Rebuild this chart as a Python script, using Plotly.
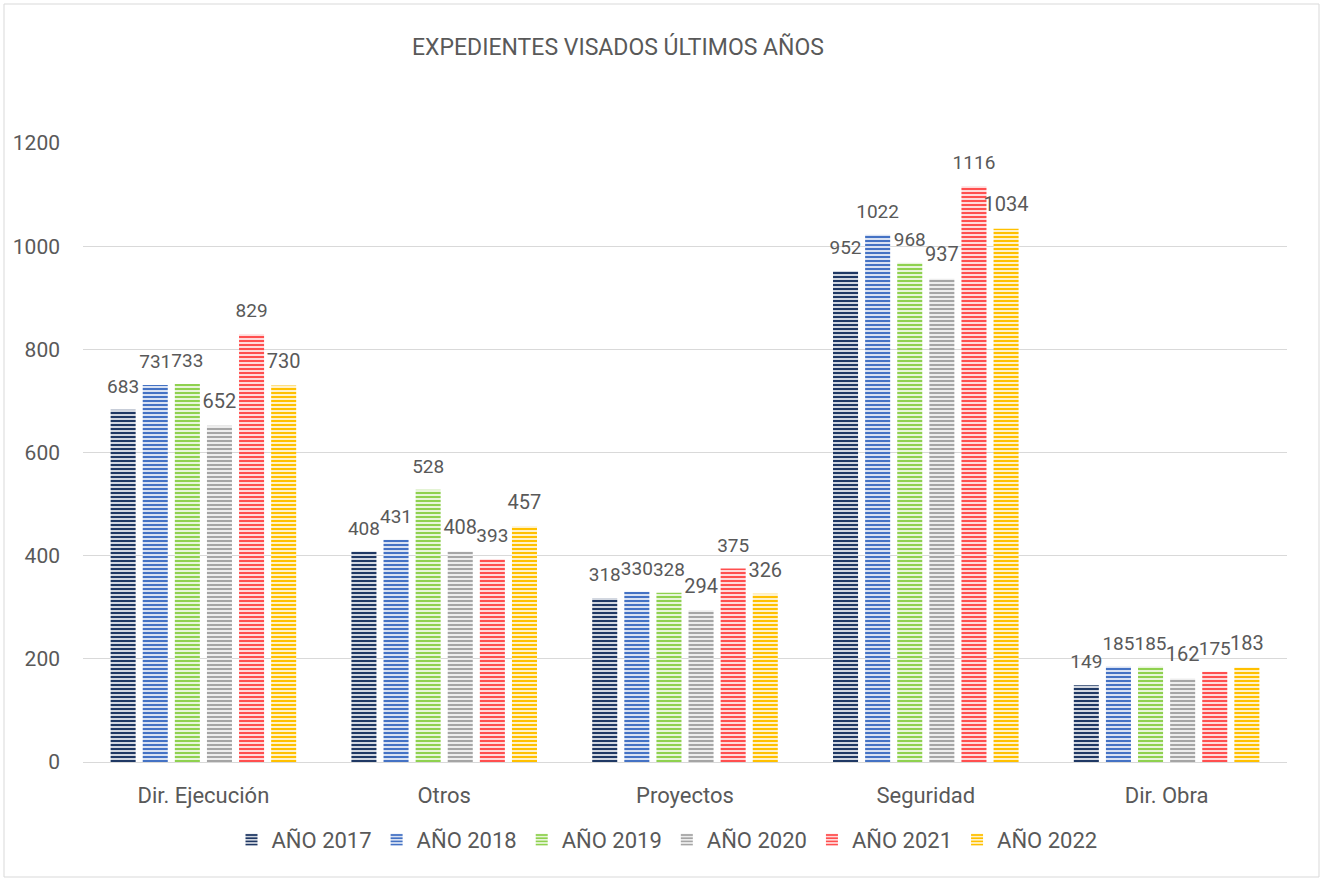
import plotly.graph_objects as go

categories = ["Dir. Ejecución", "Otros", "Proyectos", "Seguridad", "Dir. Obra"]
series_names = ["AÑO 2017", "AÑO 2018", "AÑO 2019", "AÑO 2020", "AÑO 2021", "AÑO 2022"]
v2017 = [683, 408, 318, 952, 149]
v2018 = [731, 431, 330, 1022, 185]
v2019 = [733, 528, 328, 968, 185]
v2020 = [652, 408, 294, 937, 162]
v2021 = [829, 393, 375, 1116, 175]
v2022 = [730, 457, 326, 1034, 183]
series_values = [v2017, v2018, v2019, v2020, v2021, v2022]
colors = ["#1F3864", "#4472C4", "#8FD14F", "#A5A5A5", "#FF4F4F", "#FFC000"]
label_sizes = [19, 19, 19, 20, 19, 20]
y_ticks = [0, 200, 400, 600, 800, 1000, 1200]

FONT = "Roboto"
TXT = "#595959"
GAP = 0.2

fig = go.Figure()
for i, (name, vals, col) in enumerate(zip(series_names, series_values, colors)):
    fig.add_trace(go.Bar(
        name=name, x=categories, y=vals, offsetgroup=f"g{i}",
        hoverinfo="skip",
        marker=dict(color=col, line=dict(width=0),
                    pattern=dict(shape="-", fgcolor=col, bgcolor="white",
                                 size=4, solidity=0.6, fillmode="replace")),
    ))
for i, (name, vals, ls) in enumerate(zip(series_names, series_values, label_sizes)):
    fig.add_trace(go.Scatter(
        x=categories, y=vals, mode="markers+text", orientation="v",
        offsetgroup=f"g{i}", showlegend=False, hoverinfo="skip",
        text=[str(v) for v in vals], textposition="top center",
        textfont=dict(family=FONT, size=ls, color=TXT),
        marker=dict(size=18, color="rgba(0,0,0,0)"), cliponaxis=False,
    ))

W, H = 1322, 878
L, R, T, B = 83, W - 1287, 143, H - 762
PW, PH = W - L - R, H - T - B
fig.update_layout(
    width=W, height=H,
    margin=dict(l=L, r=R, t=T, b=B),
    paper_bgcolor="white", plot_bgcolor="white",
    barmode="group", bargap=GAP, bargroupgap=0.22,
    scattermode="group", scattergap=GAP,
    title=dict(text="EXPEDIENTES VISADOS ÚLTIMOS AÑOS", x=618 / W, xanchor="center",
               y=1 - 47 / H, yanchor="middle", xref="container", yref="container",
               font=dict(family=FONT, size=23, color=TXT)),
    font=dict(family=FONT, size=20, color=TXT),
    legend=dict(orientation="h", x=(667 - L) / PW, xanchor="center",
                y=(762 - 840) / PH, yanchor="middle",
                font=dict(family=FONT, size=22, color=TXT),
                itemwidth=30, traceorder="normal"),
    showlegend=True,
    shapes=[dict(type="rect", xref="paper", yref="paper",
                 x0=(4 - L) / PW, x1=(1319 - L) / PW,
                 y0=(762 - 877) / PH, y1=(762 - 4) / PH,
                 line=dict(color="#D9D9D9", width=1), layer="below")],
)
fig.update_xaxes(showgrid=False, showline=True, linecolor="#D9D9D9", linewidth=1,
                 ticks="", ticklabelstandoff=14,
                 tickfont=dict(family=FONT, size=22, color=TXT))
fig.update_yaxes(range=[0, 1200], tickvals=y_ticks, showgrid=True, gridcolor="#D9D9D9",
                 gridwidth=1, zeroline=False, showline=False, ticks="",
                 ticklabelstandoff=22,
                 tickfont=dict(family=FONT, size=21, color=TXT))

fig.write_html("out.html", config={"displayModeBar": False},
               post_script="document.body.style.margin='0';")
